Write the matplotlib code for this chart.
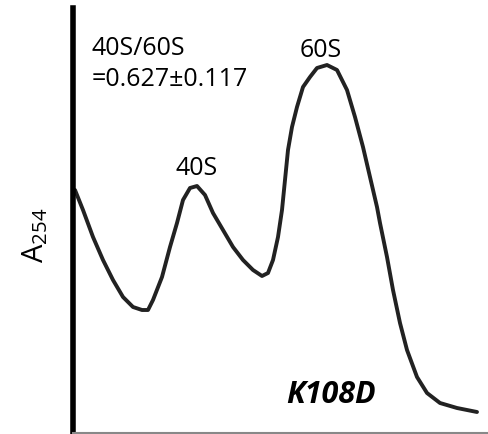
import matplotlib.pyplot as plt

# gradient position (left = top of tube) and A254 trace
position = [2, 10, 20, 30, 40, 50, 60, 69, 75, 80, 89, 97, 104, 110, 117, 124,
            132, 140, 150, 160, 170, 180, 189, 195, 200, 205, 209, 212, 215,
            219, 224, 230, 237, 244, 254, 264, 274, 282, 290, 297, 304, 307,
            314, 320, 327, 334, 344, 354, 367, 384, 404]
a254 = [243, 223, 196, 173, 153, 136, 126, 123, 123, 133, 156, 186, 210, 233, 245, 247,
        238, 220, 203, 186, 173, 163, 157, 160, 173, 196, 223, 253, 283,
        306, 326, 346, 356, 365, 368, 363, 343, 316, 286, 256, 226, 210,
        176, 143, 110, 83, 56, 40, 30, 25, 21]

peak_labels = ["40S", "60S"]
peak_label_x = [124, 248]
peak_label_y = [258, 376]
ratio_lines = ["40S/60S", "=0.627\u00b10.117"]
mutant = "K108D"

plt.rcParams['font.family'] = ['Open Sans', 'DejaVu Sans']
plt.rcParams['mathtext.default'] = 'regular'

fig = plt.figure(figsize=(4.89, 4.34), dpi=100)
ax = fig.add_axes([73 / 489, 1 / 434, 416 / 489, 425 / 434])

ax.plot(position, a254, color='#222222', lw=2.8,
        solid_capstyle='round', solid_joinstyle='round')

ax.set_xlim(0, 416)
ax.set_ylim(0, 425)

ax.spines['top'].set_visible(False)
ax.spines['right'].set_visible(False)
ax.spines['left'].set_linewidth(4)
ax.spines['left'].set_color('black')
ax.spines['bottom'].set_linewidth(1.5)
ax.spines['bottom'].set_color('#888888')
ax.set_xticks([])
ax.set_yticks([])

for lab, px, py in zip(peak_labels, peak_label_x, peak_label_y):
    ax.text(px, py, lab, ha='center', va='baseline', fontsize=18)

ax.text(19, 378, ratio_lines[0], ha='left', va='baseline', fontsize=18)
ax.text(19, 347, ratio_lines[1], ha='left', va='baseline', fontsize=18)
ax.text(258, 30, mutant, ha='center', va='baseline', fontsize=22,
        fontweight='bold', fontstyle='italic')

fig.text(35 / 489, 1 - 235 / 434, 'A$_{254}$', rotation=90,
         ha='center', va='center', fontsize=21)

fig.savefig('out.png', dpi=100)
